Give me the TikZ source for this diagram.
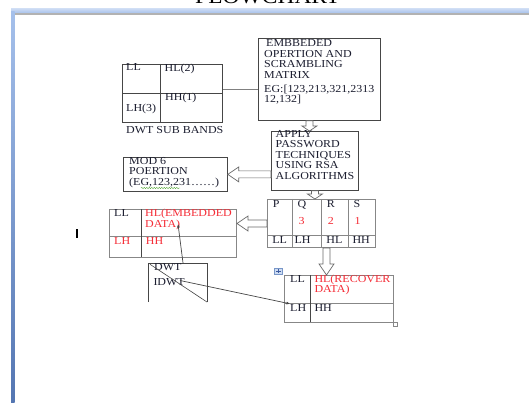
\documentclass[tikz,border=0pt]{standalone}
\usepackage{fontspec}
\setmainfont{Liberation Serif}[FakeStretch=1.12]
\usetikzlibrary{calc,arrows.meta,decorations.pathmorphing}
\definecolor{ink}{RGB}{28,30,48}
\definecolor{redt}{RGB}{245,45,55}
\definecolor{boxline}{RGB}{70,70,70}
\definecolor{tabline}{RGB}{135,135,135}
\definecolor{arrowgray}{RGB}{105,105,105}
\definecolor{bandlight}{RGB}{165,192,235}
\definecolor{banddark}{RGB}{84,118,178}
\definecolor{iconfill}{RGB}{205,220,242}
\definecolor{iconline}{RGB}{120,150,200}
\definecolor{iconcross}{RGB}{60,90,160}
\definecolor{squiggle}{RGB}{90,170,60}
\newcommand{\mlines}[1]{\begin{tabular}[t]{@{}l@{}}#1\end{tabular}}
\begin{document}
\begin{tikzpicture}[x=1pt,y=-1pt,
  box/.style={draw=boxline, line width=0.8pt, inner sep=0pt, anchor=north west},
  tab/.style={draw=tabline, line width=1pt, inner sep=0pt, anchor=north west},
  txt/.style={inner sep=0pt, anchor=base west, text=ink, font=\fontsize{10.7}{10.5}\selectfont},
  redtxt/.style={txt, text=redt},
  conn/.style={draw=boxline, line width=0.7pt},
  tipped/.style={conn, -{Latex[length=3.5pt,width=3pt]}},
  hollow/.style={draw=arrowgray, fill=white, line width=0.7pt, line join=miter,
    to path={let \p1=(\tikztostart), \p2=(\tikztotarget),
      \n1={atan2(\y2-\y1,\x2-\x1)}, \n2={veclen(\x2-\x1,\y2-\y1)} in
      {[shift={(\p1)}, rotate=\n1]
       (0pt,-3.5pt) -- ({\n2*1pt-#1pt},-3.5pt) -- ({\n2*1pt-#1pt},-7.5pt) -- ({\n2*1pt},0pt)
       -- ({\n2*1pt-#1pt},7.5pt) -- ({\n2*1pt-#1pt},3.5pt) -- (0pt,3.5pt) -- cycle}}},
  hollow/.default=8
]
\useasboundingbox (0,0) rectangle (529,403);
\fill[white] (0,0) rectangle (529,403);

% window frame
\shade[top color=bandlight!60!white, bottom color=bandlight] (11,9) rectangle (529,13.3);
\fill[gray!60] (14.5,13.3) rectangle (529,14.7);
\shade[top color=bandlight, bottom color=banddark] (11,12) rectangle (14.5,403);

% title (cut at top)
\node[inner sep=0pt, anchor=base west, font=\fontsize{21}{21}\selectfont, text=black] (title) at (195,3.5) {FLOWCHART};

% DWT sub bands
\node[box, minimum width=100pt, minimum height=58pt] (dwt) at (122,64) {};
\draw[conn] (160,64) -- (160,122) (122,93.3) -- (222,93.3);
\node[txt] (dll) at (126,71) {LL};
\node[txt] (dhl) at (164.5,71.5) {HL(2)};
\node[txt] (dhh) at (165,101) {HH(1)};
\node[txt] (dlh) at (126,111.7) {LH(3)};
\node[txt] (dcap) at (126,134) {DWT SUB BANDS};

% embedded operation box
\node[box, minimum width=122pt, minimum height=82pt] (emb) at (258,38) {};
\node[txt] (embtxt) at (264,47) {\mlines{\hspace*{2pt}EMBBEDED\\OPERTION AND\\SCRAMBLING\\MATRIX\\[3pt]EG:[123,213,321,2313\\12,132]}};

% apply password box
\node[box, minimum width=87pt, minimum height=59pt] (apply) at (271,131) {};
\node[txt] (applytxt) at (275.5,137.5) {\mlines{APPLY\\PASSWORD\\TECHNIQUES\\USING RSA\\ALGORITHMS}};

% mod 6 box
\node[box, minimum width=104pt, minimum height=34pt] (mod) at (123,157) {};
\node[txt] (modtxt) at (129,164.3) {\mlines{MOD 6\\POERTION\\(EG,123,231……)}};
\draw[squiggle, line width=0.4pt, decorate, decoration={snake, amplitude=0.7pt, segment length=2.5pt}] (141,188) -- (180,188);

% PQRS table
\node[tab, minimum width=108pt, minimum height=48pt] (pqrs) at (267,199) {};
\draw[tabline, line width=0.9pt] (292.3,199) -- (292.3,247) (321.7,199) -- (321.7,247) (348.3,199) -- (348.3,247) (267,235) -- (375,235);
\node[txt] (tp) at (272.7,207.3) {P};
\node[txt] (tq) at (297.3,207.3) {Q};
\node[txt] (tr) at (326.7,207.3) {R};
\node[txt] (ts) at (353.3,207.3) {S};
\node[redtxt] (n3) at (298.3,224.3) {3};
\node[redtxt] (n2) at (327.7,224.3) {2};
\node[redtxt] (n1) at (354.3,224.3) {1};
\node[txt] (pll) at (272.2,243.3) {LL};
\node[txt] (plh) at (294.3,243.3) {LH};
\node[txt] (phl) at (326.2,243.3) {HL};
\node[txt] (phh) at (352.3,243.3) {HH};

% embedded data table
\node[tab, minimum width=127pt, minimum height=48pt] (embtab) at (109,209) {};
\draw[tabline, line width=0.9pt] (109,236.7) -- (236,236.7);
\draw[boxline, line width=0.8pt] (141,209) -- (141,257);
\node[txt] (ell) at (114,216.7) {LL};
\node[redtxt] (ehl) at (145,216.7) {\mlines{HL(EMBEDDED\\DATA)}};
\node[redtxt] (elh) at (114,244.3) {LH};
\node[redtxt] (ehh) at (145.7,244.3) {HH};
\coordinate (dtip) at (178,224);

% DWT / IDWT box (open bottom)
\node[inner sep=0pt, minimum width=58.7pt, minimum height=38.4pt, anchor=north west] (idwt) at (148,263.3) {};
\draw[conn] (idwt.south west) |- (idwt.north east) -- (idwt.south east);
\node[txt] (tdwt) at (154,270) {DWT};
\node[txt] (tidwt) at (153.3,285.7) {IDWT};
\draw[conn, line width=0.6pt] ([shift={(2pt,-1pt)}]idwt.north west) -- (idwt.south east);
\coordinate (istart) at (180,280.5);

% recover table
\node[tab, minimum width=109pt, minimum height=47pt] (rec) at (284,275) {};
\draw[tabline, line width=0.9pt] (284,303.3) -- (393,303.3);
\draw[boxline, line width=0.8pt] (310,275) -- (310,322);
\node[txt] (rll) at (290,282.3) {LL};
\node[redtxt] (rhl) at (314.3,282.3) {\mlines{HL(RECOVER\\DATA)}};
\node[txt] (rlh) at (290,311) {LH};
\node[txt] (rhh) at (314.3,311) {HH};
\draw[tabline, line width=0.5pt, fill=white] (393,322) rectangle (397.5,326.5);
\draw[iconline, fill=iconfill, line width=0.5pt] (274.3,268.3) rectangle (282.7,274.5);
\draw[iconcross, line width=0.6pt] (278.5,269.4) -- (278.5,273.4) (276.2,271.4) -- (280.8,271.4);

% connectors
\draw[gray, line width=1.3pt] ([yshift=3.7pt]dwt.east) -- ([yshift=3.7pt]dwt.east -| emb.west);
\draw[hollow=5] ([xshift=-10pt]emb.south) to ([xshift=-10pt]emb.south |- apply.north);
\draw[hollow=11] (apply.west |- mod.east) to (mod.east);
\draw[hollow=5] (apply.south) to (apply.south |- pqrs.north);
\draw[hollow=11] (pqrs.west) to (pqrs.west -| embtab.east);
\draw[hollow=11] ([xshift=5pt]pqrs.south) to ([xshift=5pt]pqrs.south |- rec.north);
\draw[tipped] ([xshift=5.5pt]idwt.north) -- (dtip);
\draw[tipped] (istart) -- (rlh.north west);

% text cursor
\draw[black, line width=1.6pt] (77,229) -- (77,238);
\end{tikzpicture}
\end{document}
